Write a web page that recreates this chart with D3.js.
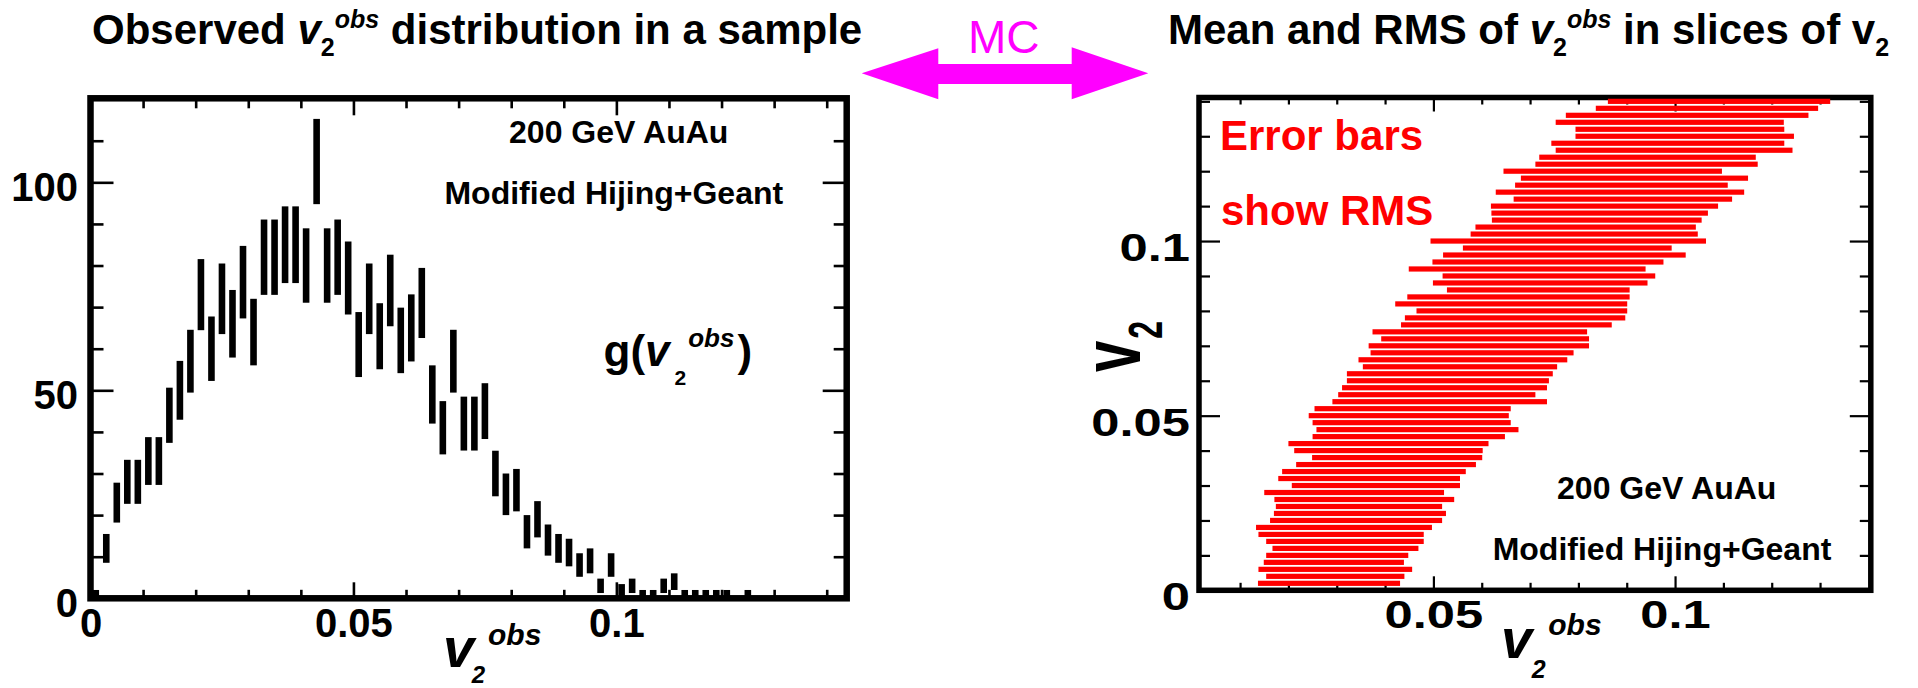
<!DOCTYPE html>
<html>
<head>
<meta charset="utf-8">
<script src="https://cdn.jsdelivr.net/npm/d3@7"></script>
<style>
  html, body { margin: 0; padding: 0; background: #fff; }
  svg { display: block; }
</style>
</head>
<body>
<svg id="chart" width="1918" height="688"></svg>
<script>
// ---------- Left panel: observed v2obs histogram (bin centres and entries) ----------
const binCentres = [
  0.001, 0.003, 0.005, 0.007, 0.009, 0.011, 0.013, 0.015, 0.017, 0.019,
  0.021, 0.023, 0.025, 0.027, 0.029, 0.031, 0.033, 0.035, 0.037, 0.039,
  0.041, 0.043, 0.045, 0.047, 0.049, 0.051, 0.053, 0.055, 0.057, 0.059,
  0.061, 0.063, 0.065, 0.067, 0.069, 0.071, 0.073, 0.075, 0.077, 0.079,
  0.081, 0.083, 0.085, 0.087, 0.089, 0.091, 0.093, 0.095, 0.097, 0.099,
  0.101, 0.103, 0.105, 0.107, 0.109, 0.111, 0.113, 0.115, 0.117, 0.119,
  0.121, 0.123, 0.125
];
const counts = [
  1, 12, 23, 28, 28, 33, 33, 44, 50, 57,
  73, 60, 72, 66, 76, 64, 82, 82, 85, 85,
  80, 105, 80, 82, 77, 61, 72, 63, 74, 62,
  65, 71, 49, 41, 57, 42, 42, 45, 30, 25,
  26, 16, 19, 14, 12, 11, 8, 9, 3, 8,
  2, 3, 1, 1, 3, 4, 1, 1, 1, 1,
  1, 0, 1
];

// ---------- Right panel: mean and RMS of v2obs in slices of true v2 ----------
const v2Slices = [
  0.002, 0.004, 0.006, 0.008, 0.010, 0.012, 0.014, 0.016, 0.018, 0.020,
  0.022, 0.024, 0.026, 0.028, 0.030, 0.032, 0.034, 0.036, 0.038, 0.040,
  0.042, 0.044, 0.046, 0.048, 0.050, 0.052, 0.054, 0.056, 0.058, 0.060,
  0.062, 0.064, 0.066, 0.068, 0.070, 0.072, 0.074, 0.076, 0.078, 0.080,
  0.082, 0.084, 0.086, 0.088, 0.090, 0.092, 0.094, 0.096, 0.098, 0.100,
  0.102, 0.104, 0.106, 0.108, 0.110, 0.112, 0.114, 0.116, 0.118, 0.120,
  0.122, 0.124, 0.126, 0.128, 0.130, 0.132, 0.134, 0.136, 0.138, 0.140
];
const meanObs = [
  0.0284, 0.0297, 0.0297, 0.0294, 0.0301, 0.0318, 0.0317, 0.0309, 0.0315, 0.0340,
  0.0348, 0.0346, 0.0357, 0.0336, 0.0381, 0.0367, 0.0377, 0.0402, 0.0425, 0.0407,
  0.0407, 0.0449, 0.0467, 0.0455, 0.0449, 0.0457, 0.0513, 0.0507, 0.0523, 0.0530,
  0.0534, 0.0555, 0.0561, 0.0580, 0.0594, 0.0607, 0.0596, 0.0651, 0.0669, 0.0683,
  0.0661, 0.0676, 0.0717, 0.0721, 0.0739, 0.0694, 0.0737, 0.0771, 0.0777, 0.0779,
  0.0812, 0.0815, 0.0838, 0.0844, 0.0854, 0.0892, 0.0886, 0.0889, 0.0916, 0.0871,
  0.0941, 0.0943, 0.0998, 0.0985, 0.1020, 0.1010, 0.0989, 0.1025, 0.1066, 0.1091
];
const rmsObs = [
  0.0147, 0.0143, 0.0159, 0.0145, 0.0147, 0.0151, 0.0163, 0.0171, 0.0182, 0.0178,
  0.0178, 0.0172, 0.0186, 0.0186, 0.0174, 0.0188, 0.0190, 0.0186, 0.0176, 0.0195,
  0.0207, 0.0199, 0.0209, 0.0205, 0.0207, 0.0203, 0.0222, 0.0204, 0.0212, 0.0209,
  0.0213, 0.0201, 0.0216, 0.0210, 0.0228, 0.0215, 0.0222, 0.0218, 0.0228, 0.0218,
  0.0240, 0.0230, 0.0189, 0.0222, 0.0220, 0.0245, 0.0239, 0.0251, 0.0216, 0.0285,
  0.0235, 0.0228, 0.0217, 0.0224, 0.0235, 0.0226, 0.0257, 0.0220, 0.0235, 0.0226,
  0.0230, 0.0224, 0.0245, 0.0241, 0.0226, 0.0216, 0.0236, 0.0251, 0.0230, 0.0230
];

// ---------- Axis ticks and labels ----------
const leftXMajor = [0, 0.05, 0.1];
const leftXLabels = ["0", "0.05", "0.1"];
const leftXMinor = [0.01, 0.02, 0.03, 0.04, 0.06, 0.07, 0.08, 0.09, 0.11, 0.12, 0.13, 0.14];
const leftYMajor = [0, 50, 100];
const leftYLabels = ["0", "50", "100"];
const leftYMinor = [10, 20, 30, 40, 60, 70, 80, 90, 110];

const rightXMajor = [0.05, 0.1];
const rightXLabels = ["0.05", "0.1"];
const rightXMinor = [0.01, 0.02, 0.03, 0.04, 0.06, 0.07, 0.08, 0.09, 0.11, 0.12, 0.13];
const rightYMajor = [0, 0.05, 0.1];
const rightYLabels = ["0", "0.05", "0.1"];
const rightYMinor = [0.01, 0.02, 0.03, 0.04, 0.06, 0.07, 0.08, 0.09, 0.11, 0.12, 0.13, 0.14];

// ---------- Drawing ----------
const FONT = "'Liberation Sans', Arial, Helvetica, sans-serif";
const svg = d3.select("#chart");
svg.append("rect").attr("width", 1918).attr("height", 688).attr("fill", "#fff");

// Scales
const xL = d3.scaleLinear().domain([0, 0.1438]).range([90.5, 846.7]);
const yL = d3.scaleLinear().domain([0, 120.2]).range([598.3, 98.3]);
const xR = d3.scaleLinear().domain([0.0015, 0.1405]).range([1199, 1870.8]);
const yR = d3.scaleLinear().domain([0, 0.1411]).range([590.3, 97.5]);

// Draw one set of ticks (inward-pointing) with optional labels.
function ticks(parent, opts) {
  const { scale, orient, at, values, len, width, labels, pad = 10, size, sx = 1, dy } = opts;
  const maker = { left: d3.axisLeft, right: d3.axisRight, top: d3.axisTop, bottom: d3.axisBottom }[orient];
  const axis = maker(scale).tickValues(values).tickSize(-len).tickPadding(pad)
    .tickFormat(labels ? (d, i) => labels[i] : () => "");
  const tr = (orient === "left" || orient === "right") ? `translate(${at},0)` : `translate(0,${at})`;
  const g = parent.append("g").attr("transform", tr).call(axis);
  g.select(".domain").remove();
  g.selectAll(".tick line").attr("stroke", "#000").attr("stroke-width", width);
  g.attr("font-family", FONT).attr("font-weight", "bold").attr("font-size", size || 40);
  const txt = g.selectAll(".tick text").attr("fill", "#000");
  if (labels) {
    if (orient === "left") {
      txt.attr("x", 0).attr("dy", dy).attr("transform", `translate(${-pad},0) scale(${sx},1)`);
    } else if (orient === "bottom") {
      txt.attr("transform", `scale(${sx},1)`);
    }
  }
  return g;
}

// Rich text: sequence of tspans with optional baseline offsets
function richText(parent, x, y, parts, base) {
  const t = parent.append("text")
    .attr("x", x).attr("y", y)
    .attr("font-family", FONT)
    .attr("font-size", base.size)
    .attr("font-weight", base.weight || "bold")
    .attr("fill", base.fill || "#000");
  parts.forEach(p => {
    const s = t.append("tspan").text(p.t).attr("y", y + (p.y || 0));
    if (p.x != null) s.attr("x", p.x);
    if (p.size) s.attr("font-size", p.size);
    if (p.italic) s.attr("font-style", "italic");
    if (p.dx) s.attr("dx", p.dx);
  });
  if (base.anchor) t.attr("text-anchor", base.anchor);
  return t;
}

// ===== Left panel =====
const gL = svg.append("g");

// error bars: N +/- sqrt(N)
gL.append("g").selectAll("rect")
  .data(binCentres.map((c, i) => ({ c, n: counts[i] })).filter(d => d.n > 0))
  .join("rect")
  .attr("x", d => xL(d.c) - 3.3)
  .attr("width", 6.6)
  .attr("y", d => yL(d.n + Math.sqrt(d.n)))
  .attr("height", d => yL(d.n - Math.sqrt(d.n)) - yL(d.n + Math.sqrt(d.n)))
  .attr("fill", "#000");

// ticks on all four sides
ticks(gL, { scale: yL, orient: "left", at: xL.range()[0], values: leftYMinor, len: 13, width: 2.6 });
ticks(gL, { scale: yL, orient: "left", at: xL.range()[0], values: leftYMajor, len: 23, width: 2.6,
            labels: leftYLabels, pad: 12.5, size: 40, dy: "0.45em" });
ticks(gL, { scale: yL, orient: "right", at: xL.range()[1], values: leftYMinor, len: 13, width: 2.6 });
ticks(gL, { scale: yL, orient: "right", at: xL.range()[1], values: leftYMajor, len: 24, width: 2.6 });
ticks(gL, { scale: xL, orient: "bottom", at: yL.range()[0], values: leftXMinor, len: 8.5, width: 2.6 });
ticks(gL, { scale: xL, orient: "bottom", at: yL.range()[0], values: leftXMajor, len: 16, width: 2.6,
            labels: leftXLabels, pad: 10.3, size: 40 });
ticks(gL, { scale: xL, orient: "top", at: yL.range()[1], values: leftXMinor, len: 10, width: 2.6 });
ticks(gL, { scale: xL, orient: "top", at: yL.range()[1], values: leftXMajor, len: 17, width: 2.6 });

// frame
gL.append("rect")
  .attr("x", xL.range()[0]).attr("y", yL.range()[1])
  .attr("width", xL.range()[1] - xL.range()[0])
  .attr("height", yL.range()[0] - yL.range()[1])
  .attr("fill", "none").attr("stroke", "#000").attr("stroke-width", 6.5);

// annotations
richText(gL, 618.7, 142.7, [{ t: "200 GeV AuAu" }], { size: 32, anchor: "middle" });
richText(gL, 613.8, 204, [{ t: "Modified Hijing+Geant" }], { size: 32, anchor: "middle" });
richText(gL, 603.5, 366, [
  { t: "g(" },
  { t: "v", italic: true },
  { t: "2", size: 21, y: 19, dx: 5 },
  { t: "obs", size: 26, italic: true, y: -19, dx: 2 },
  { t: ")", dx: 3 }
], { size: 44 });

// x axis title
richText(gL, 443, 666.7, [
  { t: "v", italic: true },
  { t: "2", size: 24, italic: true, y: 16, x: 471.7 },
  { t: "obs", size: 30, italic: true, y: -21.7, x: 488 }
], { size: 56 });

// ===== Right panel =====
const gR = svg.append("g");

ticks(gR, { scale: yR, orient: "left", at: xR.range()[0], values: rightYMinor, len: 11, width: 2.2 });
ticks(gR, { scale: yR, orient: "left", at: xR.range()[0], values: rightYMajor, len: 21, width: 2.2,
            labels: rightYLabels, pad: 9, size: 39, sx: 1.3, dy: "0.5em" });
ticks(gR, { scale: yR, orient: "right", at: xR.range()[1], values: rightYMinor, len: 11, width: 2.2 });
ticks(gR, { scale: yR, orient: "right", at: xR.range()[1], values: rightYMajor, len: 21, width: 2.2 });
ticks(gR, { scale: xR, orient: "bottom", at: yR.range()[0], values: rightXMinor, len: 7.5, width: 2.2 });
ticks(gR, { scale: xR, orient: "bottom", at: yR.range()[0], values: rightXMajor, len: 14, width: 2.2,
            labels: rightXLabels, pad: 9.7, size: 39, sx: 1.3 });
ticks(gR, { scale: xR, orient: "top", at: yR.range()[1], values: rightXMinor, len: 7, width: 2.2 });
ticks(gR, { scale: xR, orient: "top", at: yR.range()[1], values: rightXMajor, len: 14, width: 2.2 });

gR.append("rect")
  .attr("x", xR.range()[0]).attr("y", yR.range()[1])
  .attr("width", xR.range()[1] - xR.range()[0])
  .attr("height", yR.range()[0] - yR.range()[1])
  .attr("fill", "none").attr("stroke", "#000").attr("stroke-width", 5.5);

// horizontal bars: mean +/- RMS of v2obs for each v2 slice
gR.append("g").selectAll("rect")
  .data(v2Slices.map((v, i) => ({ v, m: meanObs[i], r: rmsObs[i] })))
  .join("rect")
  .attr("x", d => xR(d.m - d.r))
  .attr("width", d => xR(d.m + d.r) - xR(d.m - d.r))
  .attr("y", d => yR(d.v) - 2.6)
  .attr("height", 5.2)
  .attr("fill", "#ff0000");

// annotations
richText(gR, 1220, 150, [{ t: "Error bars" }], { size: 42, fill: "#ff0000" });
richText(gR, 1221, 225, [{ t: "show RMS" }], { size: 42, fill: "#ff0000" });
richText(gR, 1666.7, 499, [{ t: "200 GeV AuAu" }], { size: 32, anchor: "middle" });
richText(gR, 1662, 560, [{ t: "Modified Hijing+Geant" }], { size: 32, anchor: "middle" });

// x axis title
richText(gR, 1501, 658.3, [
  { t: "v", italic: true },
  { t: "2", size: 25, italic: true, y: 20, x: 1531.7 },
  { t: "obs", size: 30, italic: true, y: -23.3, x: 1548.3 }
], { size: 56 });

// y axis title (rotated, stretched across the axis)
const yTitle = gR.append("text")
  .attr("transform", "translate(1140,372) rotate(-90) scale(1,1.5)")
  .attr("font-family", FONT).attr("font-weight", "bold").attr("font-size", 56).attr("fill", "#000");
yTitle.append("tspan").text("v");
yTitle.append("tspan").text("2").attr("font-size", 32).attr("dy", 14.5).attr("dx", 2);

// ===== Headings =====
richText(svg, 92, 43.5, [
  { t: "Observed " },
  { t: "v", italic: true },
  { t: "2", size: 25, y: 12 },
  { t: "obs", size: 25, italic: true, y: -16 },
  { t: " distribution in a sample" }
], { size: 42 });

richText(svg, 1168, 43.5, [
  { t: "Mean and RMS of " },
  { t: "v", italic: true },
  { t: "2", size: 25, y: 12 },
  { t: "obs", size: 25, italic: true, y: -16 },
  { t: " in slices of v" },
  { t: "2", size: 25, y: 12 }
], { size: 42 });

// MC double arrow linking the two panels
const arrow = [
  [861.7, 73.3], [938.3, 48.3], [938.3, 64], [1071.7, 64], [1071.7, 47.3],
  [1148.3, 73.3], [1071.7, 99.3], [1071.7, 84], [938.3, 84], [938.3, 99.3]
];
svg.append("polygon")
  .attr("points", arrow.map(p => p.join(",")).join(" "))
  .attr("fill", "#ff00ff");
svg.append("text")
  .attr("x", 968).attr("y", 53.3)
  .attr("font-family", FONT).attr("font-size", 46).attr("fill", "#ff00ff")
  .text("MC");
</script>
</body>
</html>
